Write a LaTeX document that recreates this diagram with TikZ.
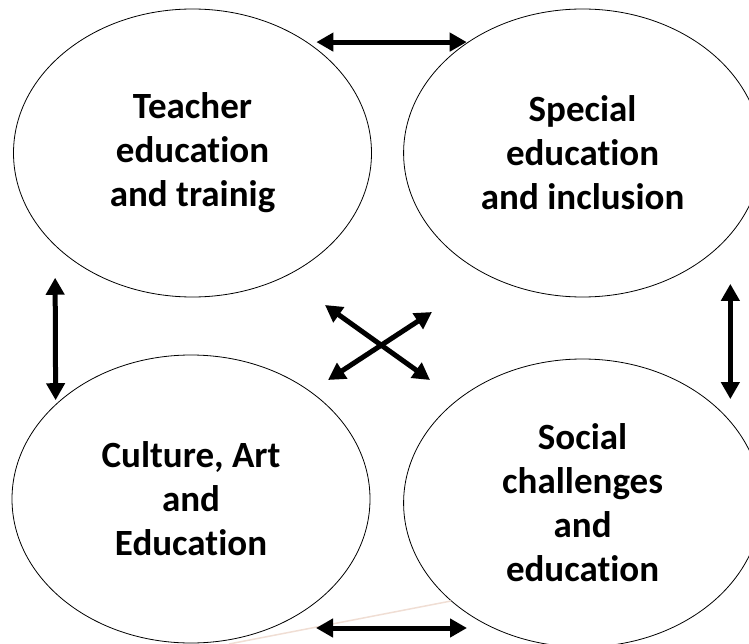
\documentclass[tikz,border=0pt]{standalone}
\usepackage{fontspec}
\setmainfont{Carlito}[Ligatures={NoCommon,NoContextual}]
\usetikzlibrary{arrows.meta,shapes.geometric}
\definecolor{smudge}{RGB}{240,222,212}

\begin{document}
\begin{tikzpicture}[x=1pt,y=-1pt,
    topic/.style={ellipse,draw,line width=0.8pt,minimum width=358pt,minimum height=288pt,
        inner sep=0pt,align=center,font=\fontsize{37}{44}\selectfont\bfseries},
    link/.style={{Triangle[length=17pt,width=18pt]}-{Triangle[length=17pt,width=18pt]},line width=5pt}]
    %\draw[help lines,step=50] (0,0) grid (749,644);
    \useasboundingbox (0,0) rectangle (749,644);

    \node[topic] (teacher) at (192.5,153) {Teacher\\education\\and trainig};
    \node[topic] (special) at (582.6,153) {Special\\education\\and inclusion};
    \node[topic] (culture) at (191,499) {Culture, Art\\and\\Education};
    \node[topic] (social) at (582.6,503) {Social\\challenges\\and\\education};

    \coordinate (crossA) at (325,305);
    \coordinate (crossB) at (430,380);
    \coordinate (crossC) at (328,380);
    \coordinate (crossD) at (432,312);
    \coordinate (lowL) at (316,628);
    \coordinate (lowR) at (467,628);

    \draw [smudge,line width=1.5pt] (229,644) -- (451,601);

    \draw [link,shorten <=9pt,shorten >=1pt] (teacher.44) -- (special.136);
    \draw [link,shorten <=32pt,shorten >=4pt] (teacher.214) -- (culture.145);
    \draw [link,shorten <=49pt,shorten >=22pt] (special.-29.4) -- (social.29.4);
    \draw [link] (lowL) -- (lowR);
    \draw [link] (crossA) -- (crossB);
    \draw [link] (crossC) -- (crossD);
\end{tikzpicture}
\end{document}
